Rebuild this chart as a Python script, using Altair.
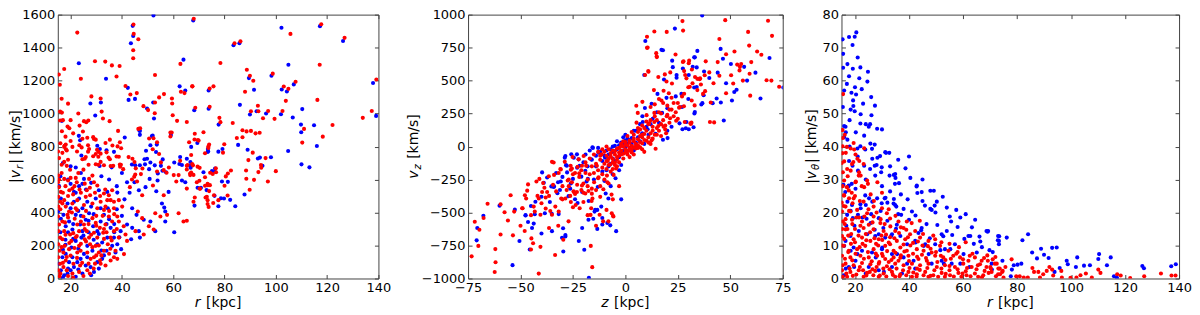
import altair as alt
import pandas as pd

# ---------------- data ----------------
# Panel 1: r [kpc] vs |v_r| [km/s]
P1_RED = [
    (68, 1575), (105.7, 1483), (117.7, 1542), (126.8, 1459), (83.9, 1426), (86.2, 1438), (78.4, 1307),
    (88.7, 1266), (89.9, 1229), (91.2, 1199), (88, 1132), (98.8, 1242), (117.1, 1296), (103.1, 1164),
    (104.9, 1150), (107.7, 1193), (139.2, 1207), (75.7, 1165), (74.2, 1152), (67.5, 1165), (68.6, 1035),
    (74.2, 1041), (78, 974), (78.4, 948), (83.2, 943), (87, 899), (88.6, 892), (90.3, 895), (92.1, 880),
    (93.7, 884), (90.3, 1014), (93.2, 1014), (93, 1047), (95, 972), (97, 1016), (99.5, 968), (102.6, 1016),
    (103.9, 1077), (111, 907), (110.3, 824), (116.2, 1083), (118.3, 860), (122.1, 931), (133.9, 974),
    (137.4, 1016), (68.4, 878), (69.6, 840), (71.8, 887), (72.4, 759), (73.7, 800), (74, 812), (79.4, 763),
    (79.9, 814), (84.8, 852), (87, 856), (89.3, 718), (91, 763), (94.3, 672), (94.2, 688), (96, 730),
    (100, 651), (67, 749), (67.4, 694), (67, 643), (66.6, 627), (69.5, 678), (70.2, 593), (70.5, 544),
    (68.4, 491), (67.9, 465), (72.4, 562), (73.5, 566), (74.3, 566), (74, 530), (72.6, 491), (73.4, 475),
    (73.8, 434), (75.6, 458), (73.4, 452), (74.4, 641), (76.6, 668), (80, 562), (80.5, 619), (81.3, 637),
    (82.5, 655), (81.2, 503), (88.5, 605), (88.4, 655), (89.8, 538), (91.5, 598), (93.2, 645), (96.9, 588),
    (44.5, 1540), (44.6, 1483), (46.4, 1451), (22.6, 1491), (17.5, 1270), (15.4, 1237), (15.8, 1175),
    (24, 1211), (29.5, 1317), (33.5, 1315), (36.1, 1292), (39.1, 1288), (37.9, 1225), (44.4, 1384),
    (44.4, 1335), (41.4, 1167), (43.3, 1116), (45.8, 1124), (52.9, 1234), (52.9, 1067), (50.2, 1021),
    (56.4, 1118), (54.5, 1098), (48.4, 1045), (59.5, 1091), (59.6, 1061), (63, 1132), (64.4, 1124),
    (62.8, 1301), (67.4, 1165), (59.8, 990), (52.8, 1002), (61.5, 956), (65.3, 949), (58.9, 885),
    (52.3, 850), (47.1, 911), (38.5, 895),
    (15.9, 1012), (16.6, 1006), (15.9, 958), (18.8, 921), (19.5, 911), (16.6, 893), (18.1, 812), (17.6, 805),
    (18.2, 783), (23.5, 927), (25.2, 954), (26.9, 958), (28.1, 1104), (31.7, 1091), (32.1, 1012), (32.6, 970),
    (35.2, 954), (26.1, 947), (24.8, 891), (23.4, 808), (26.8, 808), (27.2, 785), (29.1, 846), (24.3, 795),
    (25.5, 726), (26.8, 769), (30.3, 781), (31.7, 757), (34, 765), (34.8, 734), (35.6, 682), (29.8, 755),
    (30.8, 738), (30.8, 690), (38.8, 738), (37.9, 740), (39.6, 690), (39.3, 678), (38.3, 801), (42.6, 736),
    (44.1, 726), (44.9, 706), (45.4, 668), (45.2, 631), (47.4, 633), (48, 667), (46.4, 907), (54.5, 755),
    (55.2, 704), (56.3, 657), (57.4, 641), (59.4, 885), (62.7, 714), (65.6, 688), (67.7, 686), (65.3, 661),
    (66.6, 637), (60.2, 627), (62.1, 627), (43.9, 600), (44.8, 617), (45.9, 588),
    (17.5, 798), (18.5, 776), (24.6, 847), (26.5, 853), (28.8, 857), (29.8, 842), (33.6, 822), (35.3, 842),
    (36.3, 806), (39.2, 826), (39.7, 790), (50.6, 849), (52, 784), (53.7, 826), (58.9, 861), (66.2, 826),
    (68.3, 843), (69.9, 836), (73.7, 792), (20, 834), (20.7, 798), (15.1, 770), (16.8, 762), (24.6, 723),
    (25.9, 737), (28.8, 741), (30.8, 768), (29.8, 693), (31.7, 707), (33, 687), (36.6, 683), (35.3, 723),
    (39.2, 691), (40.5, 663), (53.7, 649), (58.3, 673), (65.3, 683), (70.3, 671), (76.7, 644), (17.5, 707),
    (18.5, 683), (19.8, 659),
    (15.2, 624), (15.1, 584), (15.4, 554), (16.2, 525), (15.2, 495), (16, 465), (15.2, 436), (17.5, 604),
    (19, 594), (20.7, 545), (22.4, 584), (26.3, 535), (27.2, 604), (28.5, 624), (29.1, 584), (30.4, 564),
    (33, 515), (34.9, 505), (36.2, 535), (35.6, 475), (38.8, 475), (40.1, 436), (43.1, 554), (47.9, 505),
    (52.1, 564), (56.3, 505), (61.2, 588), (65.3, 545), (67.9, 628), (69.2, 584), (70.3, 545), (72.4, 614),
    (73.4, 574), (73.1, 495), (75.4, 634), (75.9, 505), (77.6, 475),
    (53, 396), (55, 376), (57.6, 386), (64, 346), (65.3, 350), (62.1, 396), (46.2, 406), (47.9, 366),
    (50.5, 317), (52.4, 297), (45.3, 287), (48.5, 267), (41.4, 267), (40.7, 317), (38.8, 248), (40.8, 148),
    (42, 228), (37.5, 168), (36.9, 129), (35.6, 109), (38.2, 119),
    (15.1, 376), (15.5, 327), (15.2, 287), (15.9, 248), (15.2, 208), (15.7, 168), (15.2, 129), (15.9, 89),
    (15.2, 50), (15.7, 14), (16.8, 346), (17.5, 287), (16.8, 238), (17.7, 198), (17.2, 158), (18.1, 109),
    (17.2, 69), (18.5, 50), (18.8, 386), (19.4, 406), (19.8, 267), (20.3, 228), (19.4, 178), (20, 139),
    (21.1, 89), (20.7, 30), (21.6, 362), (22.6, 327), (23.3, 287), (22.4, 257), (23.3, 198), (22.6, 158),
    (23.9, 168), (23.7, 79), (23.3, 40), (25, 376), (25.2, 327), (26.3, 287), (25.5, 238), (27.2, 248),
    (27.6, 208), (26.5, 158), (27.8, 119), (26.5, 50), (28.5, 366), (29.8, 337), (29.1, 277), (30.4, 248),
    (29.8, 198), (31, 158), (29.1, 129), (31.4, 307), (32.7, 277), (33.6, 327), (33, 416), (34.9, 376),
    (36.2, 346), (36.9, 287), (35.6, 248), (34.5, 208), (33, 168), (31.7, 89), (33.6, 79), (38.2, 376),
    (38.8, 346), (36.9, 426), (16.8, 455), (18.1, 436), (20.7, 455), (22, 426), (22.6, 475), (25.2, 446),
    (25.9, 495), (28.5, 455), (30.4, 426), (31.7, 465), (27.6, 505), (34.3, 475), (36.9, 465), (33.6, 436),
    (17, 520), (19, 500), (21, 510), (24, 520), (18, 560), (15.5, 600), (16.5, 640), (20, 610), (23, 640),
    (22, 250), (24, 210), (19, 15), (21, 5), (27, 90), (29, 60), (32, 140), (35, 150), (26, 410), (30, 380),
    (33, 300),
    (16, 30), (17, 95), (18.5, 130), (16.5, 190), (19.5, 215), (21, 275), (17.8, 340), (19, 370), (20.5, 400),
    (22.5, 415), (24, 345), (25.5, 300), (27, 330), (28, 265), (26, 225), (28.5, 190), (30, 140), (31.5, 110),
    (29.5, 90), (27.5, 30), (25, 15), (22.5, 125), (24.5, 95), (21.5, 185), (18, 265), (16, 420), (17.5, 475),
    (19.5, 535), (21.5, 560), (23.5, 540), (25.5, 575), (27.5, 550), (29.5, 520), (31.5, 500), (33.5, 540),
    (35, 410), (37, 390), (32.5, 380), (30, 320), (34, 280), (36, 230), (38, 300), (31, 200), (33, 240),
    (35.5, 180), (22, 610), (25, 660), (27, 690), (19, 720), (16.5, 690), (15.5, 730), (18, 860), (21, 880),
    (16, 820), (22.5, 770), (17, 960), (20, 960), (23, 1000), (19, 1060), (16.5, 1090),
]
P1_BLUE = [
    (67.8, 1565), (102.2, 1520), (117.2, 1530), (126.2, 1440), (83.5, 1414), (85.8, 1426), (89.5, 1215),
    (91.5, 1144), (98.3, 1229), (104.9, 1296), (102.3, 1146), (104.3, 1134), (107, 1177), (137.9, 1185),
    (73.8, 1140), (86, 1053), (68.2, 1020), (73.8, 1029), (77.7, 933), (89.9, 994), (92.5, 1014), (96.2, 1000),
    (102, 996), (106.6, 976), (109.8, 933), (109.9, 887), (110.3, 1027), (114.9, 929), (116, 803), (139.1, 986),
    (69.4, 822), (73.5, 785), (73.6, 771), (77.6, 769), (79.2, 785), (85.3, 810), (89, 781), (93, 728),
    (93.8, 733), (94.8, 684), (98.1, 735), (104.8, 773), (110, 692), (113.1, 674), (66.7, 706), (68.3, 442),
    (69.5, 550), (70.8, 550), (73, 536), (76.1, 501), (76.2, 647), (75.1, 651), (78.6, 487), (79.8, 485),
    (81.3, 586), (79, 588), (82.2, 477), (84.2, 438), (87.8, 509), (77.6, 438),
    (44.2, 1532), (52.3, 1595), (44.4, 1471), (43.5, 1426), (23.2, 1305), (42.3, 1156), (42.6, 1083),
    (45.1, 1089), (52.2, 1067), (49.8, 1031), (62.5, 1165), (64.7, 1140), (64, 1327), (52.5, 970), (59.1, 870),
    (51.7, 864), (46.8, 897), (16.6, 956), (27.7, 1061), (29.6, 988), (31.8, 1067), (33.8, 1211), (23.7, 838),
    (30.4, 805), (31.4, 785), (34, 777), (36, 674), (31.3, 682), (47, 895), (49.4, 775), (49.8, 726), (52, 866),
    (53.6, 812), (53.3, 767), (55.9, 722), (55.8, 653), (62.4, 694), (63.4, 688), (65.3, 726), (66.8, 672),
    (52.8, 686), (54, 637), (49, 692),
    (23.2, 865), (51.1, 808), (36.9, 768), (41.1, 855), (47, 871), (67, 798), (73.5, 768), (24.2, 746),
    (43.9, 691), (45.2, 687), (47, 687), (48.8, 723), (51.1, 703), (50.6, 663), (55.2, 683), (57.2, 644),
    (60.4, 703), (62.7, 737), (66.6, 683), (76.3, 667), (71.8, 644), (22, 673), (20, 574), (21.3, 525),
    (23.3, 560), (24.6, 574), (25.2, 604), (31, 535), (34.3, 525), (38.2, 521), (42, 584), (44.9, 584),
    (46.6, 535), (49.2, 554), (50.8, 604), (53.4, 529), (53.9, 594), (55.6, 455), (58.2, 525), (63.4, 594),
    (64.7, 584), (56.5, 430), (60.4, 280), (56.9, 346), (44, 426), (45.7, 386), (48.5, 356), (51.1, 346),
    (53, 287), (42, 327), (44, 307), (46.6, 287), (47, 248), (43.6, 238), (39.5, 287), (38.2, 208),
    (39.7, 178), (56.9, 406),
    (15.1, 406), (16.2, 362), (17.2, 386), (18.1, 317), (19.4, 346), (20.7, 297), (22, 386), (23.7, 327),
    (24.6, 287), (25.9, 356), (27.2, 396), (28.8, 317), (30.4, 287), (31.7, 346), (33, 386), (34.5, 426),
    (31.7, 426), (35.6, 307), (34.3, 248), (32.3, 218), (30.4, 208), (28.5, 168), (26.5, 198), (25.2, 149),
    (23.9, 119), (22.6, 99), (21.3, 69), (20, 50), (18.8, 30), (17.5, 20), (16.2, 50), (15.5, 89), (16.8, 129),
    (18.1, 149), (20.3, 188), (22, 228), (24.2, 248), (20.7, 129), (19.4, 99), (25.9, 79), (27.8, 69),
    (29.1, 40), (24.6, 30), (22, 10), (26.5, 129), (30.4, 99), (32.3, 119), (34, 168), (36.2, 198),
    (36.9, 248), (37.5, 158), (16.2, 485), (18.8, 455), (21.3, 465), (23.3, 485), (26.5, 465), (29.8, 485),
    (28, 436), (24.6, 426), (20, 426),
    (17, 5), (19, 60), (23, 55), (28, 20), (31, 60), (16, 280), (18, 235), (27, 280), (32, 170), (34, 330),
    (21, 330), (24, 380), (37, 330), (38, 420), (40, 380),
    (17, 175), (19, 280), (23, 180), (25, 260), (29, 235), (31, 270), (33, 140), (27, 350), (29, 390),
    (23, 410), (21, 240), (18, 205), (35, 360), (37, 280), (39, 250), (26, 540), (22, 520), (19, 600),
    (24, 640), (28, 580), (32, 620), (35, 600), (38, 560), (41, 480), (43, 520), (40, 640), (16, 620),
    (15.5, 560), (17, 700), (20, 680),
]

# Panel 2: z [kpc] vs v_z [km/s]
P2_RED = [
    (-71.8, -570), (-69.6, -631), (-67.6, -542), (-65.7, -433), (-70.1, -753), (-73.3, -832), (-59.5, -438),
    (-57.6, -498), (-59.5, -666), (-62, -777), (-61.9, -877), (-62.3, -951), (-53.6, -673), (-53, -493),
    (-54.7, -369), (-49, -468), (-47.9, -369), (-46.8, -334), (-46.4, -287), (-45, -780), (-44, -733),
    (-44.8, -696), (-43.2, -493), (-41.9, -374), (-42.4, -265), (-41.3, -394), (-41.3, -963), (-40.5, -760),
    (-39.2, -277), (-38.6, -312), (-37.3, -344), (-36.5, -225), (-38, -386), (-34.5, -290), (-34, -215),
    (-34.2, -121), (-33.5, -822), (-35.8, -488), (-36.4, -617), (-31.8, -493), (-31.8, -200), (-30.8, -173),
    (-29.6, -706), (-28.6, -394), (-28.9, -116), (-27.5, -257), (-26.1, -146), (-25.2, -79), (-25.5, -166),
    (-24.7, -339), (-26.3, -374), (-23.7, -443), (-21.8, -468), (-20.7, -295), (-22, -203), (-22.8, -154),
    (-22.3, -97), (-19.9, -72), (-18.7, -146), (-17.6, -337), (-16.1, -413), (-16.6, -518), (-16.5, -753),
    (-15.8, -914), (-13.6, -146),
    (-8.4, -109), (-7.2, -136), (-5, -121), (-4.4, -166), (-5.6, -215), (-8.8, -220), (-12.8, -233),
    (-14.9, -270), (-16, -319), (-20.7, -146), (-26, -176), (-31, -171), (-35, -116), (-25.5, -270),
    (-23.1, -344), (-19.1, -356), (-15.7, -394), (-12, -381), (-8.6, -270), (-16.3, -468), (-12.3, -517),
    (-6.5, -505), (-5.7, -530), (-27.1, -567), (-33.4, -455), (-35, -517), (-40.5, -517), (-49.2, -468),
    (-39.7, -344), (-41, -245), (-47.3, -394), (-43.7, -455), (-36.4, -374), (-30.6, -394), (-24.6, -344),
    (-11.3, -59), (-16, -357), (-10.5, -324), (-6.6, -364), (-10.6, -567), (-8.1, -567), (-5.9, -525),
    (10.3, 748), (14.7, 708), (15, 678), (27.7, 646), (30.4, 651), (38.3, 646), (28, 572), (21.4, 562),
    (11, 567), (15.7, 527), (19.6, 493), (29.1, 517), (33.2, 527), (35.6, 517), (40, 562), (22.2, 478),
    (30.7, 453), (34.3, 428), (40.7, 334), (31.6, 349), (31, 176), (27.9, 305), (25.6, 295), (20.7, 404),
    (17.2, 349), (13.6, 428), (18.2, 423), (8.1, 339), (5.2, 309), (5.9, 255), (10.1, 238), (13.8, 255),
    (19.7, 230), (21.3, 215), (24.2, 196), (28.3, 186), (31.5, 181), (40.3, 186), (13.8, 186), (11.3, 176),
    (5.3, 181), (15.7, 156), (18.2, 151), (19.4, 101), (14.4, -17), (12.5, 47), (8, 89),
    (27.2, 951), (47.6, 958), (68, 953), (69.9, 839), (62.8, 720), (64.8, 696), (58.5, 869), (59, 765),
    (55.2, 626), (54.6, 604), (59.2, 552), (59.5, 386), (67.3, 503), (69.6, 500), (73.3, 453), (44.8, 815),
    (53.3, 621), (54.4, 577), (50.4, 540), (44.8, 537), (48, 404), (51.4, 478), (42.3, 183), (37.8, 540),
    (37, 399), (33, 312), (31.2, 171), (35.4, 510), (34.3, 513), (31.7, 584), (30.2, 631), (27.5, 879),
    (23.9, 698), (19.7, 869), (13.8, 872), (10.3, 832), (10.6, 750), (14.9, 683), (27.4, 641), (28.5, 542),
    (18.8, 547), (10.9, 572), (9.4, 542),
    (-9, -110), (-8, -90), (-7, -75), (-6, -95), (-5, -60), (-4, -80), (-3, -45), (-2, -30), (-1, -55),
    (0, -20), (1, -35), (2, -10), (3, 5), (4, -5), (5, 20), (6, 10), (7, 35), (8, 25), (9, 50), (10, 45),
    (-6, -30), (-4, -15), (-2, 5), (0, 15), (2, 30), (4, 40), (6, 55), (8, 70), (3, -25), (5, -15), (1, 10),
    (-1, 0), (-3, -10), (-5, -35), (-7, -50), (-9, -70), (-10, -130), (-8, -140), (-6, -120), (7, 80),
    (9, 95), (11, 70), (12, 100), (4, 60), (2, 45), (0, 35), (-2, 20), (6, -10), (-11, -160), (10, 120),
    (-3, -70), (1, -60), (3, -45), (5, 0), (7, -5), (-4, -100), (-1, -90), (8, -20), (11, 30), (13, 60),
    (14, 90), (-12, -100), (-14, -130), (-13, -180), (-15, -200), (15, 140), (16, 120), (13, 150),
    (-16, -150), (-17, -210), (17, 170), (18, 200), (-18, -250), (12, 200), (14, 230), (16, 260),
    (-9, -170), (-11, -210), (-7, -190), (-13, -240), (9, 140), (11, 170), (6, 110), (4, 90), (-2, -60),
    (0, -45), (2, -30), (-5, -140), (-3, -120), (20, 240), (22, 280), (-20, -280), (-19, -200), (19, 130),
    (21, 180), (23, 230), (-21, -330), (-23, -290), (-24, -360), (24, 260), (26, 300), (-10, -250),
    (-12, -300), (-8, -280), (-14, -330), (15, 200), (17, 250), (10, 190), (8, 160), (7, 130), (-6, -170),
    (-4, -150), (25, 330), (27, 380), (-22, -230), (-25, -210), (-27, -300), (-28, -330), (-26, -420),
    (-30, -400), (-18, -300), (-20, -350), (18, 330), (20, 310), (22, 370), (16, 360), (12, 300), (14, 320),
    (-50, -600), (-48, -640), (-56, -560), (-45, -520), (-40, -430), (-38, -470), (-33, -340), (-30, -300),
    (-27, -250), (-24, -200), (-21, -180), (-19, -120), (-17, -90), (-15, -60), (-13, -40), (-12, -70),
    (-10, -40), (-11, -20), (-9, 0), (-8, -20), (12, 20), (13, 120), (15, 90), (17, 80), (19, 160), (21, 280),
    (23, 330), (25, 210), (28, 400), (30, 450), (32, 480), (36, 470), (38, 420), (42, 480), (44, 640),
    (48, 700), (52, 720), (56, 500), (60, 640), (6, 140), (3, 110), (1, 80), (-1, 40), (4, -60), (9, -40),
    (2, -80), (-32, -600), (-25, -460), (-20, -420), (-18, -520), (-14, -600), (-9, -480), (-6, -400),
    (-3, -300),
]
P2_BLUE = [
    (-70.6, -617), (-70.9, -711), (-67.7, -525), (-60, -448), (-53.8, -899), (-52.7, -478), (-50.5, -716),
    (-47.6, -520), (-46.4, -572), (-45.6, -780), (-43.7, -584), (-43.2, -513), (-42.9, -418), (-40, -659),
    (-39.7, -196), (-37.3, -235), (-35.3, -302), (-34, -302), (-35.1, -510), (-35, -641), (-32.4, -354),
    (-31.2, -329), (-30.8, -265), (-29.7, -619), (-28.6, -681), (-29.6, -795), (-28.9, -84), (-28.3, -141),
    (-27.8, -196), (-25.8, -59), (-25, -245), (-24, -399), (-22.8, -428), (-22.2, -716), (-20.6, -617),
    (-19.6, -782), (-20.6, -344), (-21, -228), (-21.8, -146), (-23.1, -59), (-17.9, -245), (-15.3, -547),
    (-17.4, -995), (-16.3, -97), (-15.5, -10), (-13.4, -480), (-13.4, -624),
    (-15.7, -5), (-12.8, -47), (-9.7, -84), (-18.5, -265), (-19.1, -183), (-22.3, -97), (-24.6, -84),
    (-27.9, -146), (-28.6, -72), (-32.1, -270), (-26.3, -319), (-17.5, -413), (-9.4, -356), (-4.7, -240),
    (-13.2, -307), (-14.7, -493), (-11.5, -455), (-11, -542), (-8.6, -579), (-11, -591), (-28.6, -671),
    (-31.8, -512), (-38.4, -505), (-47.6, -522), (-44.5, -617), (-30.2, -691), (-38.9, -275), (-34.2, -307),
    (-27.1, -376), (-14.4, -480), (-10, -260), (-8.1, -394), (-7.2, -597), (-4.4, -641), (-17.6, -555),
    (17.9, 730), (22.3, 651), (34.3, 725), (32.8, 676), (27.4, 592), (9, 542), (18.4, 508), (24.4, 522),
    (30.2, 542), (32.8, 448), (37.3, 389), (43.5, 364), (41.6, 329), (36.2, 319), (32.9, 250), (26.7, 399),
    (19.6, 369), (15.3, 399), (12.5, 324), (9.3, 292), (8.1, 230), (17.5, 255), (25.8, 176), (27.2, 131),
    (28.8, 139), (30.2, 131), (8.3, 186), (10.6, 131), (20.1, 64), (17.9, 52), (14.4, 97),
    (36.6, 993), (68.7, 671), (56.6, 604), (64.4, 364), (75.3, 448), (45.4, 740), (46.5, 666), (50.3, 626),
    (51.9, 413), (50.8, 349), (46.9, 198), (45.5, 334), (37.5, 569), (36.7, 329), (33.1, 262), (32.5, 146),
    (29.1, 186), (34, 451), (32.1, 604), (23.6, 894), (9.5, 800), (17.2, 733), (33.1, 676), (22.6, 602),
    (24.4, 542),
    (-4, -20), (-3, 10), (-2, 30), (-1, 15), (0, -5), (1, 25), (2, -20), (-5, 5), (-6, -40), (3, 20), (0, 45),
    (-2, -50), (-8, -60), (4, -30), (5, 30), (-7, -20), (1, 60), (-1, -30), (2, 50), (-3, -80), (6, 70),
    (-9, -30), (-10, -70), (7, 40), (9, 20), (-12, -40), (-14, -70), (-11, -110), (11, 90), (-13, -10),
    (-4, 40), (-6, 0), (3, 65), (8, 100), (10, 150), (12, 170), (-16, -100), (-18, -150), (-20, -120),
    (-7, -130), (5, 120), (13, 210), (-1, 70), (0, 90), (-5, -110), (15, 260), (-2, -140), (-9, -180),
    (-15, -250), (-6, -210),
    (-45, -450), (-40, -380), (-36, -420), (-33, -200), (-30, -230), (-26, -280), (-23, -160), (-19, -60),
    (-17, -30), (-14, -150), (-11, -190), (-8, -150), (-6, -90), (16, 180), (20, 290), (24, 380), (27, 300),
    (30, 360), (34, 600), (40, 520), (44, 560), (48, 480), (53, 430), (58, 500), (62, 560), (20, 120),
    (22, 150), (4, 120), (7, 170), (-3, -180), (-7, -300), (-2, -400),
]

# Panel 3: r [kpc] vs |v_theta| [km/s]
P3_RED = [
    (15.6, 55.9), (15.4, 45), (16.2, 43.6), (15.4, 40.1), (17, 39.9), (18.4, 39.4), (16.6, 38.1), (19.7, 39.1),
    (23.4, 39.5), (20.9, 36.3), (19.4, 35.3), (18.4, 32.7), (21.5, 32.2), (22.1, 31.2), (16, 29.7), (17, 27.7),
    (20.3, 29.4), (23.4, 27.7), (24.8, 28.7), (28.3, 29.2), (16, 25.2), (17.8, 24.3), (19.1, 22.8),
    (15.2, 45), (15.5, 42.6), (19.5, 41.1), (20.2, 37.6), (21.6, 35.6), (23.2, 34.7), (18.9, 34.7),
    (17.1, 33.2), (15.5, 32.2), (21.4, 31.2), (24.5, 29.7), (20.2, 29.2), (17.7, 26.7), (15.9, 25.2),
    (19.5, 24.3), (23.2, 23.3), (26.9, 21.8), (30, 21.3), (31.8, 19.8), (16.5, 21.8), (15.2, 20.3),
    (18.3, 20.3), (20.8, 20.8), (24.5, 19.8), (26.9, 18.8), (18.9, 17.8), (15.5, 17.3), (22.6, 17.3),
    (25.1, 16.3), (29.4, 16.8), (33.1, 15.8), (36.1, 17.3), (39.2, 17.3), (16.5, 14.9), (23.2, 15.3),
    (26.9, 14.9), (30.6, 14.4), (34.9, 14.4), (38, 15.3), (40.4, 13.4), (42.3, 14.4), (15.2, 12.9),
    (19.5, 11.9), (22.6, 12.4), (25.7, 11.4), (28.8, 11.9), (32.5, 10.9), (35.5, 11.4), (38.6, 11.9),
    (44.1, 12.4), (47.2, 11.4), (49.7, 11.9), (15.9, 9.9), (17.7, 8.4), (20.8, 8.9), (23.8, 9.9), (26.9, 8.9),
    (31.2, 9.9), (34.3, 8.4), (36.8, 9.4), (39.2, 8.4), (42.9, 8.9), (45.4, 8.4), (48.4, 7.9), (51.5, 9.9),
    (54.6, 8.4), (15.2, 6.9), (18.3, 6.4), (22, 6.9), (25.1, 6.4), (28.2, 6.9), (31.2, 5.9), (34.3, 6.4),
    (36.1, 5.4), (39.8, 6.9), (43.5, 5.9), (46.6, 5.4), (49.7, 6.9), (52.7, 6.4), (56.4, 6.9), (58.9, 6.4),
    (62, 5.4), (64.4, 6.4), (66.9, 5.4), (16.5, 4.5), (19.5, 4), (22.6, 4.7), (25.7, 4.3), (28.8, 4.5),
    (31.8, 3.7), (34.9, 4.5), (38, 4), (41.1, 4.5), (44.1, 4), (47.2, 4.5), (50.3, 3.5), (53.3, 4), (57, 3.5),
    (60.1, 4.5), (63.2, 3.5), (66.3, 4.3), (68.7, 3.5), (71.8, 4.5), (73.6, 3), (15.2, 2.5), (18.3, 2),
    (21.4, 2.5), (24.5, 1.7), (27.5, 2.3), (30.6, 1.5), (33.7, 2), (36.8, 1.3), (39.8, 2), (42.9, 1.3),
    (46, 2), (49, 1), (52.1, 1.7), (55.2, 1), (58.3, 1.7), (61.3, 1), (64.4, 1.5), (67.5, 1), (70.6, 2),
    (73, 1.3), (17.1, 0.5), (23.2, 0.5), (28.8, 0.5), (34.9, 0.5), (41.1, 0.5), (47.2, 0.5), (53.3, 0.5),
    (59.4, 0.5), (65.6, 0.5), (15.3, 38), (15.1, 35), (15.4, 28), (15.1, 23), (15.3, 15), (15.2, 10),
    (15.4, 4), (16.2, 16.5), (17.5, 13), (18.5, 10.5), (20, 15), (21.5, 18.5), (24, 13.5), (27.8, 10.5),
    (29.8, 13), (33, 12.5), (30, 7.5), (26.5, 2.8), (32.5, 5), (37, 7), (40.5, 10), (43, 3), (45, 10),
    (50.5, 5), (55, 2.5), (58, 8), (61, 2.2), (63.5, 7.5), (69, 7), (71, 5.8), (74.5, 2),
    (15.5, 0.5), (16.8, 1.5), (18, 3), (19.2, 0.8), (20.5, 1.2), (21.8, 3.5), (23, 2.5), (24.2, 0.9),
    (25.5, 2), (26.8, 1), (28, 3.5), (29.2, 0.9), (30.5, 3), (31.6, 0.6), (32.8, 2.8), (34, 1.1), (35.4, 3),
    (36.5, 0.7), (37.8, 2.5), (39, 1), (40.2, 3.2), (41.6, 1.8), (42.8, 0.6), (44, 2.6), (45.4, 1),
    (46.8, 3.2), (48, 0.8), (49.4, 2.5), (50.8, 0.5), (52, 3), (53.6, 1.4), (55, 3.8), (56.6, 0.6), (58, 2.8),
    (59.8, 1.5), (61.5, 3.2), (62.8, 0.7), (65, 2.8), (67, 0.4), (68, 2.3),
    (16.3, 6), (17.5, 8), (19, 5.5), (20.2, 7.5), (21.7, 9.5), (23.3, 6), (24.8, 8), (26.2, 5.2), (27.7, 7.6),
    (29, 5), (30.3, 6.8), (31.9, 8.3), (33.5, 5.6), (35, 7.8), (36.8, 6.3), (38.3, 8.2), (40, 5.3),
    (41.5, 7.5), (43, 6.6), (44.8, 7.2), (46.3, 6.2), (48, 9), (50, 8), (51.8, 6.9), (53.5, 5.6), (55.5, 6),
    (57.5, 7.5), (60, 5.8), (62.5, 6.9), (65.5, 4), (67.8, 6.2), (70.3, 3), (72, 6.5),
    (16, 12), (17.2, 15), (18.6, 13.5), (20, 11), (21.3, 13), (22.8, 10.5), (24.2, 11.6), (25.6, 14),
    (27.2, 12.2), (28.6, 10), (30.1, 11.7), (31.5, 13.3), (33, 10.4), (34.6, 12.2), (36.3, 13.8), (38, 10.3),
    (39.6, 12.5), (41.5, 10.8), (43.3, 11.2), (45.2, 13.5), (47, 9.8), (49, 13), (52, 11), (55, 10.5),
    (58.5, 9.5), (61, 11), (16.5, 18), (17.8, 20.5), (19, 16.5), (20.5, 18.5), (22, 16), (23.5, 18.8),
    (25, 21), (26.5, 17), (28, 20), (29.5, 18), (31, 16.5), (33, 18.2), (35, 19), (37, 15.5), (39, 14.8),
    (41, 16.8), (44, 17.5), (16, 35.5), (17.3, 31), (15.8, 22), (18.8, 26), (20, 25), (21.8, 23.5),
    (22.5, 28), (25.8, 25.5), (27, 23.5), (30, 26), (32.5, 21),
    (69.2, 5.4), (70.1, 3.5), (69.5, 1.7), (72.5, 4.5), (73.1, 3), (73.7, 1.3), (72.2, 0.7), (75, 0.3),
    (74.7, 2.3), (75.7, 3.5), (78, 5.8), (79.7, 0.7), (81, 0.7), (82.5, 0.3), (84, 0.3), (85.7, 3.2),
    (86.3, 2), (87.9, 2), (88.5, 0.3), (89.7, 1.3), (91, 2.3), (92, 3.5), (93, 2.7), (93.4, 0.9), (96.4, 2.3),
    (96.6, 0.3), (99.8, 0.2), (102, 0.3), (103.5, 1), (105.5, 1.5), (107.7, 0.3), (110.1, 2.7), (110.9, 1.7),
    (117.1, 1.3), (118.4, 0.9), (121.9, 0.1), (127.1, 0.7), (133.3, 1.5), (137.2, 0.9), (138.7, 0.9),
]
P3_BLUE = [
    (15.4, 72.5), (15.6, 68.1), (15.6, 63.9), (17.2, 65), (17.8, 73.2), (19.9, 73.3), (20.5, 74.6),
    (19.1, 70.8), (19.2, 63.6), (17.8, 61.3), (21.6, 60.7), (24.8, 62.7), (24.6, 59.7), (22.5, 57.4),
    (18.7, 56.3), (20.4, 55.8), (19.3, 54), (15.5, 52), (19.4, 52.3), (18.4, 51.2), (19.9, 50.7), (22.1, 49.8),
    (27.4, 52.4), (26.1, 49.5), (25.6, 46.8), (24, 46.8), (28.2, 45.4), (30, 45.2), (16, 46.2), (16, 42.8),
    (17.2, 42.1), (16.6, 44.3), (20.3, 44.3), (23.4, 43.3), (20.9, 39.4), (23.8, 39.1), (27.3, 40.6),
    (31.5, 38.1), (32.7, 38.1), (28.3, 36.6), (29.3, 37.1), (26.4, 36.3), (17.8, 35.6), (19.1, 34.2),
    (21.1, 32.7), (23.4, 34.2), (25.6, 33.2), (28, 34.4), (29.9, 33.7), (29.7, 32.2), (27.5, 31.2),
    (34.4, 31.4), (35, 30.5), (34.8, 28.7), (36.3, 28.9), (38.7, 33.4), (42.8, 27.9), (43.1, 25.9), (33, 26.4),
    (34.4, 24.1), (31.3, 24.5), (47.9, 26.6), (49.2, 26.6), (49.5, 22.1), (45.9, 22.1), (47.9, 21.1),
    (49.8, 20), (52.5, 24.8), (55.1, 18.8), (55.6, 17.3), (59, 18.5), (63.3, 15.5), (62.7, 12.9), (66.1, 12.7),
    (69.3, 14.4), (66.4, 11.2), (69.8, 8.6), (52.7, 12.8), (47.7, 12.2), (44.5, 14.6), (42.4, 19.1),
    (37.1, 19.3), (35.3, 21.8), (34.3, 22.7), (32, 23), (31, 24.3), (29.9, 22.8), (26.4, 23.3), (25.2, 24.3),
    (24, 22.3), (22.1, 21.3), (21.1, 19.3), (19.2, 18.3), (18.4, 20.5), (17.2, 23.3), (15.7, 28.4),
    (16.4, 26.2), (17.5, 27.9), (18.8, 28.7), (24.3, 18.1), (25.8, 16.8), (27.3, 14.8), (28.8, 13.4),
    (30.5, 15.3), (33.4, 12.9), (35.2, 15.1), (39.3, 10.4), (42.4, 10.9), (45.5, 9.9), (47.3, 7.4),
    (51.6, 8.6), (55.3, 8.9), (60.2, 7.4), (59, 4.5), (62.4, 3.5), (65.1, 7.9), (52.9, 4.5), (27.7, 6.4),
    (20.9, 7.4), (18.4, 8.4), (16, 9.9), (30.1, 9.4), (35.6, 7.4), (39.3, 4.5), (30.7, 2), (24, 1.5),
    (16.6, 3), (19.7, 3.5),
    (44.7, 26.2), (52.1, 13.4), (68.7, 14.4), (73, 12.9), (73.3, 11.4), (62, 12.9), (57, 10.4), (53.3, 8.9),
    (49.7, 10.4), (46, 10.4), (42.3, 11.4), (36.8, 12.9), (33.7, 13.4), (31.2, 12.4), (27.5, 12.9),
    (24.5, 13.4), (21.4, 14.4), (18.3, 12.9), (16.5, 11.4), (19.5, 9.4), (22.6, 8.4), (26.3, 7.9), (30, 8.9),
    (33.7, 7.4), (38, 6.4), (41.7, 5.4), (48.4, 4.5), (52.1, 5.4), (55.8, 4.5), (20.2, 5.4), (17.7, 3.5),
    (25.1, 3.5), (28.8, 2.5), (33.7, 3.5), (37.4, 1.5), (42.3, 3), (70.6, 4.5), (15.9, 1), (16.5, 46),
    (22, 40.1), (25.1, 46), (25.7, 40.9), (26.3, 39.3), (27.3, 34.2), (31.2, 38.3), (32.8, 31.2),
    (34.9, 31.7), (42.9, 28.2), (50.3, 23.3), (48.4, 20.8), (41.1, 20.3), (38, 21.1), (34.9, 22.3),
    (28.2, 24.3), (23.8, 25.2), (22, 22.5), (18.9, 22.3), (17.7, 28.2), (20.2, 27.2), (17.1, 19.3),
    (28.8, 18.3), (35.5, 16.3), (44.7, 15.3),
    (16.8, 16), (19.8, 16), (22.8, 18.5), (26, 19.5), (29.5, 20.5), (32, 17.5), (36, 19.5), (39.5, 24),
    (45, 23.5), (40, 17.8), (43.5, 13.8), (46.5, 16.5), (50.5, 16.2), (54, 14.4), (56, 13.2), (58, 15.6),
    (60.5, 12), (64, 10.5), (67, 9.5), (71, 8), (54, 21.5), (57.5, 20.8), (61, 19.5), (64.5, 17.8), (37, 25.5),
    (40.5, 30.5), (45, 30), (30, 28), (33, 34), (36, 36), (40, 37), (24, 30), (21, 37), (18, 40), (22, 47),
    (18, 48), (20, 58), (17, 59), (16, 57), (23, 53), (26, 55), (21, 67), (22, 64),
    (69.1, 14.2), (72.9, 11.6), (73.4, 12.8), (73.3, 10.4), (76.2, 12.4), (82, 11.6), (84.1, 13.4),
    (85.6, 7.9), (88.9, 9), (87.4, 6.1), (90, 7.2), (91.7, 6.2), (93, 9.3), (94.7, 9.4), (98.4, 5.4),
    (98.8, 4.3), (102.3, 6.4), (101.8, 3.5), (104.8, 3.9), (107, 4), (110.4, 7.4), (110.1, 5.9), (113.3, 4),
    (114.7, 6.4), (115.9, 0.7), (117, 0.2), (126.4, 3.8), (127, 3.1), (137.1, 3.7), (138.8, 4.3), (80.2, 4.2),
    (81.6, 4.5), (78.8, 4), (78.1, 2.7), (74.6, 5.4), (70.7, 2.7), (95.8, 3.2), (93.9, 2), (77.7, 0.7),
]

R_TICKS = [20, 40, 60, 80, 100, 120, 140]
VR_TICKS = [0, 200, 400, 600, 800, 1000, 1200, 1400, 1600]
Z_TICKS = [-75, -50, -25, 0, 25, 50, 75]
VZ_TICKS = [-1000, -750, -500, -250, 0, 250, 500, 750, 1000]
VT_TICKS = [0, 10, 20, 30, 40, 50, 60, 70, 80]

# ---------------- styling / layout ----------------
FONT = "DejaVu Sans"
RED = "#ff0000"
BLUE = "#0000ff"
FRAME = "#444444"
H = 265
W1, W2, W3 = 322, 316, 339
GAP12, GAP23 = 90, 59
TFS = 14      # axis title font size
SFS = 10      # subscript font size
EM = {' ': 0.318, '[': 0.390, ']': 0.390, 'k': 0.579, 'p': 0.635, 'c': 0.550, 'm': 0.974,
      '/': 0.337, 's': 0.521, '|': 0.337, 'v': 0.592, 'r': 0.411, 'z': 0.525, 'θ': 0.602}


def seg_width(text, size):
    return sum(EM.get(ch, 0.6) for ch in text) * size


def title_layers(segments, x, y, vertical):
    """segments: (text, italic, subscript). x,y: centre (vertical: baseline x, centre y)."""
    widths = []
    for text, ital, sub in segments:
        w = seg_width(text, SFS if sub else TFS)
        widths.append(w + (1.0 if ital else 0.0))
    total = sum(widths)
    layers = []
    pos = 0.0
    one = pd.DataFrame({"t": [0]})
    for (text, ital, sub), w in zip(segments, widths):
        size = SFS if sub else TFS
        shown = text.lstrip(" ")
        lead = seg_width(text[:len(text) - len(shown)], size)
        kw = dict(text=shown, font=FONT, fontSize=size,
                  fontStyle="italic" if ital else "normal", align="left",
                  baseline="alphabetic", color="black")
        if sub:
            kw["dy"] = 3
        if vertical:
            kw["angle"] = 270
            px, py = x, y + total / 2 - pos - lead
        else:
            px, py = x - total / 2 + pos + lead, y
        layers.append(alt.Chart(one).mark_text(**kw).encode(x=alt.value(px), y=alt.value(py)))
        pos += w
    return layers


def panel(blue, red, xdom, ydom, xticks, yticks, width, xtitle, ytitle, ytitle_x):
    xs = alt.Scale(domain=xdom, nice=False, zero=False)
    ys = alt.Scale(domain=ydom, nice=False, zero=False)
    ax_b = alt.Axis(orient="bottom", values=xticks, format="d", title=None)
    ax_l = alt.Axis(orient="left", values=yticks, format="d", title=None)
    ax_t = alt.Axis(orient="top", values=xticks, labels=False, title=None)
    ax_r = alt.Axis(orient="right", values=yticks, labels=False, title=None)
    dfb = pd.DataFrame(blue, columns=["x", "y"])
    dfr = pd.DataFrame(red, columns=["x", "y"])
    lb = alt.Chart(dfb).mark_circle(size=17, color=BLUE, opacity=1, clip=True).encode(
        x=alt.X("x:Q", scale=xs, axis=ax_b), y=alt.Y("y:Q", scale=ys, axis=ax_l))
    lr = alt.Chart(dfr).mark_circle(size=17, color=RED, opacity=1, clip=True).encode(
        x=alt.X("x:Q", scale=xs, axis=ax_t), y=alt.Y("y:Q", scale=ys, axis=ax_r))
    titles = title_layers(xtitle, width / 2, H + 29, False) + title_layers(ytitle, ytitle_x, H / 2, True)
    return alt.layer(lb, lr, *titles).resolve_axis(x="independent", y="independent").properties(
        width=width, height=H)


def spacer(w):
    return alt.Chart(pd.DataFrame({"s": [0]})).mark_point(opacity=0).encode(
        x=alt.value(0), y=alt.value(0)).properties(width=w, height=H, view=alt.ViewBackground(strokeOpacity=0))


p1 = panel(P1_BLUE, P1_RED, [15, 140], [0, 1600], R_TICKS, VR_TICKS, W1,
           [("r", True, False), (" [kpc]", False, False)],
           [("|", False, False), ("v", True, False), ("r", True, True), ("| [km/s]", False, False)], -38)
p2 = panel(P2_BLUE, P2_RED, [-75, 75], [-1000, 1000], Z_TICKS, VZ_TICKS, W2,
           [("z", True, False), (" [kpc]", False, False)],
           [("v", True, False), ("z", True, True), (" [km/s]", False, False)], -50)
p3 = panel(P3_BLUE, P3_RED, [15, 140], [0, 80], R_TICKS, VT_TICKS, W3,
           [("r", True, False), (" [kpc]", False, False)],
           [("|", False, False), ("v", True, False), ("θ", True, True), ("| [km/s]", False, False)], -25.5)

chart = alt.hconcat(p1, spacer(GAP12), p2, spacer(GAP23), p3, spacing=0, bounds="flush").properties(
    padding={"left": 0, "top": -1, "right": 0, "bottom": 0}
).configure_view(stroke=FRAME, strokeWidth=1).configure_axis(
    labelFont=FONT, labelFontSize=13, labelColor="black", tickColor=FRAME, tickWidth=1, tickSize=4,
    offset=-4, labelPadding=3, domain=False, grid=False, labelFlush=False, labelOverlap=False
)

chart.save("out.html", embed_options={"renderer": "svg", "actions": False})
